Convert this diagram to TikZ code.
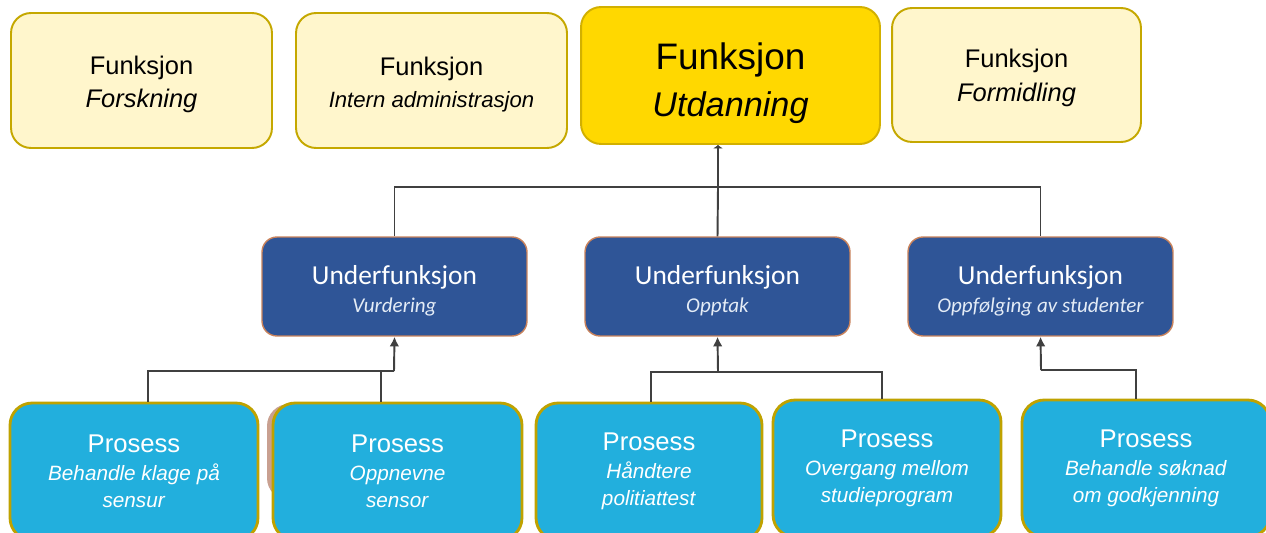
\documentclass[tikz,border=0pt]{standalone}
\usepackage{fontspec}
\setmainfont{Liberation Sans}
\newfontfamily\subfont{Carlito}
\usepackage{xcolor}
\usetikzlibrary{arrows.meta}
\definecolor{funkfill}{HTML}{FFF6CC}
\definecolor{funkline}{HTML}{C5A800}
\definecolor{utdfill}{HTML}{FFD800}
\definecolor{utdline}{HTML}{D2B000}
\definecolor{subfill}{HTML}{2F5597}
\definecolor{subline}{HTML}{C8825C}
\definecolor{subtext}{HTML}{E4ECF6}
\definecolor{prosfill}{HTML}{22AFDD}
\definecolor{prosline}{HTML}{BFA200}
\definecolor{shadebrown}{HTML}{C9A090}
\definecolor{linegray}{HTML}{404040}
\newcommand{\lowerby}[1]{\rule{0pt}{#1}}

\begin{document}
\begin{tikzpicture}
    [x=0.02cm, y=-0.02cm,
     funk/.style={draw=funkline, line width=1.1pt, fill=funkfill, rounded corners=0.4cm,
                  align=center, text=black, minimum height=2.70cm,
                  font=\fontsize{14.5}{18}\selectfont},
     utdbox/.style={funk, draw=utdline, fill=utdfill, minimum height=2.74cm,
                  font=\fontsize{21}{26}\selectfont},
     subbox/.style={draw=subline, line width=0.8pt, fill=subfill, rounded corners=0.3cm,
                  align=center, text=white, minimum width=5.30cm, minimum height=1.98cm,
                  font=\subfont\fontsize{15.6}{16}\selectfont},
     prosbox/.style={draw=prosline, line width=1.6pt, fill=prosfill, rounded corners=0.44cm,
                  align=center, text=white, minimum height=2.74cm,
                  font=\fontsize{11.8}{15.5}\selectfont},
     link/.style={draw=linegray, line width=1.1pt},
     >={Latex[length=5.5pt,width=5.5pt]}]
    \useasboundingbox (0,0) rectangle (1266,533);
    \clip (0,0) rectangle (1266,533);
    \fill[white] (0,0) rectangle (1266,533);
    % funksjoner
    \node[funk, minimum width=5.22cm] (fors) at (141.5,80.5)
        {\lowerby{15pt}Funksjon\\[1pt]\textit{Forskning}};
    \node[funk, minimum width=5.42cm] (intern) at (431.5,80.5)
        {\lowerby{15pt}Funksjon\\{\fontsize{12.6}{16}\selectfont\itshape Intern administrasjon}};
    \node[utdbox, minimum width=5.98cm] (utd) at (730.5,75.5)
        {\lowerby{24pt}Funksjon\\[1pt]{\fontsize{19.5}{26}\selectfont\itshape Utdanning}};
    \node[funk, minimum width=4.98cm, minimum height=2.68cm] (form) at (1016.5,75)
        {\lowerby{14pt}Funksjon\\[1pt]\textit{Formidling}};
    % underfunksjoner
    \node[subbox] (vurd) at (394.5,286.5)
        {\lowerby{16pt}Underfunksjon\\{\fontsize{12}{16}\selectfont\itshape\color{subtext}Vurdering}};
    \node[subbox] (oppt) at (717.5,286.5)
        {\lowerby{16pt}Underfunksjon\\{\fontsize{12}{16}\selectfont\itshape\color{subtext}Opptak}};
    \node[subbox] (oppf) at (1040.5,286.5)
        {\lowerby{16pt}Underfunksjon\\{\fontsize{12}{16}\selectfont\itshape\color{subtext}Oppfølging av studenter}};
    % prosesser
    \fill[shadebrown, rounded corners=0.44cm] (267,404) rectangle (510,500);
    \node[prosbox, minimum width=4.96cm] (klage) at (134,471.5)
        {{\fontsize{14.6}{16}\selectfont Prosess}\\\textit{Behandle klage på}\\\textit{sensur}};
    \node[prosbox, minimum width=4.98cm] (sensor) at (397.5,471.5)
        {{\fontsize{14.6}{16}\selectfont Prosess}\\\textit{Oppnevne}\\\textit{sensor}};
    \node[prosbox, minimum width=4.52cm] (polit) at (649,471.5)
        {{\fontsize{14.6}{16}\selectfont Prosess}\\\textit{Håndtere}\\\textit{politiattest}};
    \node[prosbox, minimum width=4.56cm] (overg) at (887,468.5)
        {{\fontsize{14.6}{16}\selectfont Prosess}\\\textit{Overgang mellom}\\\textit{studieprogram}};
    \node[prosbox, minimum width=4.96cm] (soknad) at (1146,468.5)
        {{\fontsize{14.6}{16}\selectfont Prosess}\\\textit{Behandle søknad}\\\textit{om godkjenning}};
    % koblinger
    \coordinate (jtop) at (718,187);
    \coordinate (jvurd) at (394,371);
    \coordinate (joppt) at (718,372);
    \coordinate (joppf) at (1041,370);
    \draw[link] (vurd.north) |- (jtop) -| (oppf.north);
    \draw[link] (oppt.north) -- (jtop);
    \draw[link, -{Latex[length=2pt,width=6pt]}] (jtop) -- (utd.south -| jtop);
    \draw[link] ([xshift=0.28cm]klage.north) |- (jvurd);
    \draw[link] ([xshift=-0.33cm]sensor.north) -- ([xshift=-0.33cm]sensor.north |- jvurd);
    \draw[link, ->] (jvurd) -- (vurd.south);
    \draw[link] ([xshift=0.04cm]polit.north) |- (joppt) -| ([xshift=-0.10cm]overg.north);
    \draw[link, ->] (joppt) -- (oppt.south);
    \draw[link] ([xshift=-0.20cm]soknad.north) |- (joppf);
    \draw[link, ->] (joppf) -- (oppf.south);
\end{tikzpicture}
\end{document}
